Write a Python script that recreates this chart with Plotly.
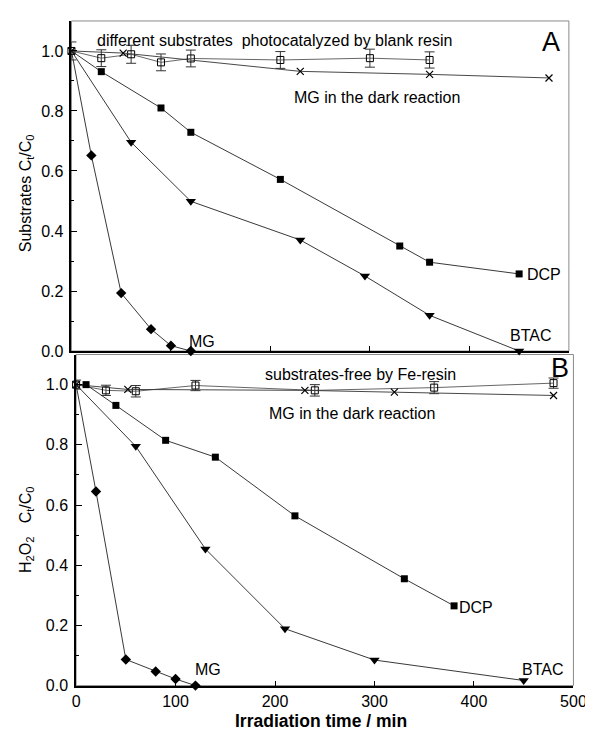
import plotly.graph_objects as go

# ---------------- data: panel A (substrates) ----------------
a_mg_x = [0, 20, 50, 80, 100, 120]
a_mg_y = [1.0, 0.652, 0.193, 0.073, 0.018, 0.0]
a_dcp_x = [0, 30, 90, 120, 210, 330, 360, 450]
a_dcp_y = [1.0, 0.931, 0.810, 0.729, 0.572, 0.350, 0.296, 0.257]
a_btac_x = [0, 60, 120, 230, 295, 360, 450]
a_btac_y = [1.0, 0.696, 0.499, 0.370, 0.250, 0.119, 0.0]
a_blank_x = [0, 30, 60, 90, 120, 210, 300, 360]
a_blank_y = [1.0, 0.976, 0.989, 0.962, 0.975, 0.970, 0.976, 0.970]
a_blank_err = [0.03, 0.028, 0.03, 0.028, 0.028, 0.028, 0.03, 0.027]
a_dark_x = [0, 52, 230, 360, 480]
a_dark_y = [1.0, 0.993, 0.932, 0.922, 0.910]

# ---------------- data: panel B (H2O2) ----------------
b_mg_x = [0, 20, 50, 80, 100, 120]
b_mg_y = [1.0, 0.645, 0.087, 0.047, 0.022, 0.0]
b_dcp_x = [0, 10, 40, 90, 140, 220, 330, 380]
b_dcp_y = [1.0, 1.0, 0.931, 0.815, 0.759, 0.564, 0.355, 0.265]
b_btac_x = [0, 60, 130, 210, 300, 450]
b_btac_y = [1.0, 0.795, 0.454, 0.189, 0.085, 0.017]
b_blank_x = [0, 30, 60, 120, 240, 360, 480]
b_blank_y = [1.0, 0.981, 0.978, 0.997, 0.981, 0.990, 1.005]
b_blank_err = [0.015, 0.017, 0.019, 0.017, 0.019, 0.02, 0.017]
b_dark_x = [0, 52, 230, 320, 480]
b_dark_y = [1.0, 0.984, 0.981, 0.975, 0.964]

x_ticks = [0, 100, 200, 300, 400, 500]
y_ticks = [0.0, 0.2, 0.4, 0.6, 0.8, 1.0]

FONT = "Liberation Sans, Arial, sans-serif"
LC = "#222222"

fig = go.Figure()


def sizes_no_first(n, s):
    # the shared starting point (t=0) is drawn only by the open square / cross symbols
    return [0] + [s] * (n - 1)


def add_panel(xa, ya, mg, dcp, btac, blank, dark):
    # blank resin with error bars
    fig.add_trace(go.Scatter(
        x=blank[0], y=blank[1], xaxis=xa, yaxis=ya, mode="lines+markers",
        line=dict(color="#555555", width=0.9),
        marker=dict(symbol="square-open", size=7, color="black", line=dict(width=1, color="black")),
        error_y=dict(type="data", array=blank[2], color="#333333", thickness=1, width=5),
        cliponaxis=False, showlegend=False))
    # MG dark reaction
    fig.add_trace(go.Scatter(
        x=dark[0], y=dark[1], xaxis=xa, yaxis=ya, mode="lines+markers",
        line=dict(color="#333333", width=0.9),
        marker=dict(symbol="x-thin-open", size=7, color="black", line=dict(width=1.2, color="black")),
        cliponaxis=False, showlegend=False))
    fig.add_trace(go.Scatter(
        x=dcp[0], y=dcp[1], xaxis=xa, yaxis=ya, mode="lines+markers",
        line=dict(color=LC, width=0.9),
        marker=dict(symbol="square", size=sizes_no_first(len(dcp[0]), 7), color="black",
                    opacity=1, line=dict(width=0, color="black")),
        cliponaxis=False, showlegend=False))
    fig.add_trace(go.Scatter(
        x=btac[0], y=btac[1], xaxis=xa, yaxis=ya, mode="lines+markers",
        line=dict(color=LC, width=0.9),
        marker=dict(symbol="triangle-down", size=sizes_no_first(len(btac[0]), 9), color="black",
                    opacity=1, line=dict(width=0, color="black")),
        cliponaxis=False, showlegend=False))
    fig.add_trace(go.Scatter(
        x=mg[0], y=mg[1], xaxis=xa, yaxis=ya, mode="lines+markers",
        line=dict(color=LC, width=0.9),
        marker=dict(symbol="diamond", size=sizes_no_first(len(mg[0]), 8), color="black",
                    opacity=1, line=dict(width=0, color="black")),
        cliponaxis=False, showlegend=False))


# top panel A uses x2/y2, bottom panel B uses x/y
add_panel("x2", "y2", (a_mg_x, a_mg_y), (a_dcp_x, a_dcp_y), (a_btac_x, a_btac_y),
          (a_blank_x, a_blank_y, a_blank_err), (a_dark_x, a_dark_y))
add_panel("x", "y", (b_mg_x, b_mg_y), (b_dcp_x, b_dcp_y), (b_btac_x, b_btac_y),
          (b_blank_x, b_blank_y, b_blank_err), (b_dark_x, b_dark_y))

tickfont = dict(family=FONT, size=16, color="black")

xcommon = dict(range=[0, 500], tickvals=x_ticks, ticks="inside", ticklen=5, tickwidth=1.2,
               tickcolor="black", showline=True, linecolor="black", linewidth=1.6,
               showgrid=False, zeroline=False, tickfont=tickfont)
ycommon = dict(range=[0, 1.1], tickvals=y_ticks, tickformat=".1f", ticks="inside", ticklen=6,
               tickwidth=1.2, tickcolor="black", showline=True, linecolor="black", linewidth=1.6,
               showgrid=False, zeroline=False, tickfont=tickfont, ticklabelstandoff=3,
               minor=dict(dtick=0.1, ticks="inside", ticklen=3, tickcolor="black", tickwidth=1))

fig.update_layout(
    width=593, height=737,
    margin=dict(l=0, r=0, t=0, b=0),
    paper_bgcolor="white", plot_bgcolor="white",
    font=dict(family=FONT, color="black"),
    xaxis=dict(domain=[0.1113, 0.9747], anchor="y", **xcommon),
    yaxis=dict(domain=[0.0692, 0.5240], anchor="x", **ycommon),
    xaxis2=dict(domain=[0.1032, 0.9668], anchor="y2", showticklabels=False,
                **{k: v for k, v in xcommon.items() if k != "tickfont"}),
    yaxis2=dict(domain=[0.5288, 0.9822], anchor="x2", **ycommon),
)

# grey frames (top/right edges)
for xr, yr in (("x domain", "y domain"), ("x2 domain", "y2 domain")):
    fig.add_shape(type="rect", xref=xr, yref=yr, x0=0, x1=1, y0=0, y1=1,
                  line=dict(color="#8a8a8a", width=1), layer="below")

tf = dict(family=FONT, size=16, color="black")
ann = [
    # panel A
    dict(x=204, y=1.035, xref="x2", yref="y2", text="different substrates&nbsp; photocatalyzed by blank resin"),
    dict(x=307, y=0.846, xref="x2", yref="y2", text="MG in the dark reaction"),
    dict(x=131, y=0.033, xref="x2", yref="y2", text="MG"),
    dict(x=456, y=0.255, xref="x2", yref="y2", text="DCP", xanchor="left"),
    dict(x=461, y=0.053, xref="x2", yref="y2", text="BTAC"),
    # panel B
    dict(x=286, y=1.035, xref="x", yref="y", text="substrates-free by Fe-resin"),
    dict(x=277, y=0.904, xref="x", yref="y", text="MG in the dark reaction"),
    dict(x=133, y=0.052, xref="x", yref="y", text="MG"),
    dict(x=383, y=0.259, xref="x", yref="y", text="DCP", xanchor="left"),
    dict(x=469, y=0.055, xref="x", yref="y", text="BTAC"),
]
for a in ann:
    a.setdefault("xanchor", "center")
    fig.add_annotation(showarrow=False, font=tf, yanchor="middle", **a)

fig.add_annotation(x=482, y=1.03, xref="x2", yref="y2", text="A", showarrow=False,
                   xanchor="center", yanchor="middle",
                   font=dict(family=FONT, size=27, color="black"))
fig.add_annotation(x=487, y=1.056, xref="x", yref="y", text="B", showarrow=False,
                   xanchor="center", yanchor="middle",
                   font=dict(family=FONT, size=27, color="black"))

# axis titles
fig.add_annotation(x=15 / 593, y=(737 - 188) / 737, xref="paper", yref="paper",
                   xanchor="center", yanchor="middle",
                   text="Substrates C<sub>t</sub>/C<sub>0</sub>", textangle=-90, showarrow=False,
                   font=dict(family=FONT, size=16, color="black"))
fig.add_annotation(x=15 / 593, y=(737 - 528) / 737, xref="paper", yref="paper",
                   xanchor="center", yanchor="middle",
                   text="H<sub>2</sub>O<sub>2</sub>&nbsp;&nbsp; C<sub>t</sub>/C<sub>0</sub>", textangle=-90,
                   showarrow=False, font=dict(family=FONT, size=16, color="black"))
fig.add_annotation(x=318 / 593, y=(737 - 722) / 737, xref="paper", yref="paper",
                   xanchor="center", yanchor="middle",
                   text="<b>Irradiation time / min</b>", showarrow=False,
                   font=dict(family=FONT, size=17.5, color="black"))

fig.write_html("out.html")
